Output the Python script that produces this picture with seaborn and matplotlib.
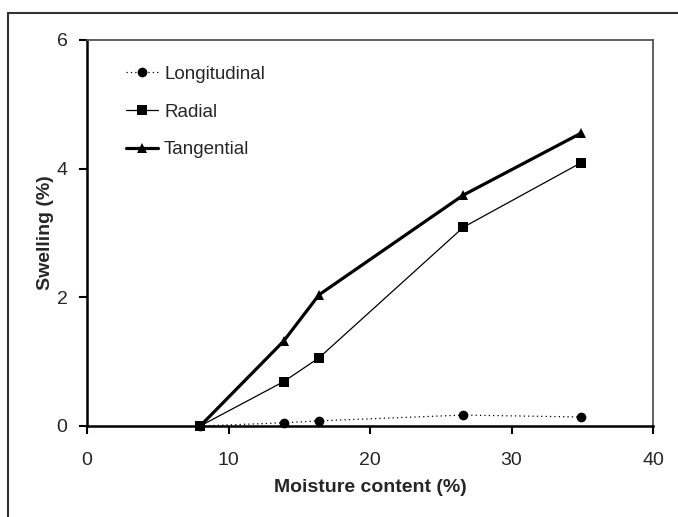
import pandas as pd
import matplotlib
matplotlib.use("Agg")
import matplotlib.pyplot as plt
import seaborn as sns
from matplotlib.patches import Rectangle

# data
moisture = [8.0, 13.9, 16.4, 26.6, 34.9]
longitudinal = [0.0, 0.05, 0.08, 0.17, 0.14]
radial = [0.0, 0.69, 1.06, 3.09, 4.09]
tangential = [0.0, 1.32, 2.04, 3.59, 4.55]

sns.set_style("white")
plt.rcParams['font.family'] = ['Liberation Sans', 'DejaVu Sans']

fig = plt.figure(figsize=(6.78, 5.17), dpi=100)
ax = fig.add_axes([87 / 678, 1 - 426 / 517, 566 / 678, 386 / 517])

# outer frame around the chart
fig.patches.append(Rectangle((8 / 678, -0.05), 1.2, 1 - 13 / 517 + 0.05,
                             transform=fig.transFigure, fill=False,
                             edgecolor='#333333', linewidth=1.5))

series = [
    ('Longitudinal', longitudinal, (0, (1, 2.5)), 0.9, 'o'),
    ('Radial', radial, '-', 0.9, 's'),
    ('Tangential', tangential, '-', 2.3, '^'),
]
for name, vals, ls, lw, mk in series:
    df = pd.DataFrame({'x': moisture, 'y': vals})
    sns.lineplot(data=df, x='x', y='y', ax=ax, color='black', linestyle=ls,
                 linewidth=lw, marker=mk, markersize=7, markeredgewidth=0,
                 label=name, clip_on=False, zorder=3)

ax.set_xlim(0, 40)
ax.set_ylim(0, 6)
ax.set_xticks([0, 10, 20, 30, 40])
ax.set_yticks([0, 2, 4, 6])
ax.tick_params(axis='both', direction='out', length=6, width=1.5,
               labelsize=14, color='black', bottom=True, left=True)
ax.tick_params(axis='x', pad=12.5)
ax.tick_params(axis='y', pad=8)
ax.set_xlabel('Moisture content (%)', fontsize=14, fontweight='bold', labelpad=7.5)
ax.set_ylabel('Swelling (%)', fontsize=14, fontweight='bold', labelpad=1.5)

for side in ['left', 'bottom']:
    ax.spines[side].set_color('black')
    ax.spines[side].set_linewidth(1.8)
for side in ['top', 'right']:
    ax.spines[side].set_color('#555555')
    ax.spines[side].set_linewidth(1.3)

ax.legend(loc='upper left', frameon=False, fontsize=13.5, handlelength=1.75,
          handletextpad=0.3, labelspacing=1.1, borderaxespad=0,
          bbox_to_anchor=(0.055, 0.953))

fig.savefig('out.png', dpi=100)
